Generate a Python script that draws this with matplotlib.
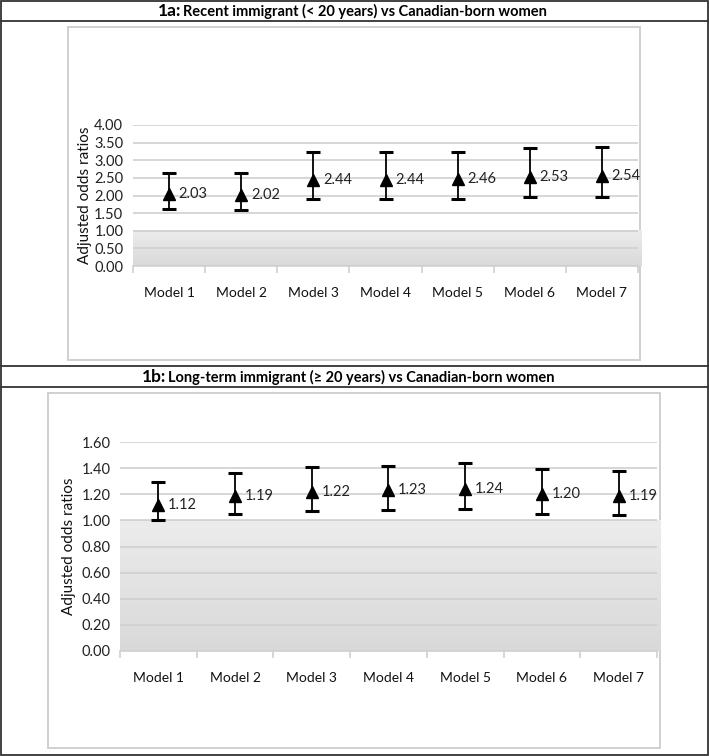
import numpy as np
import matplotlib
matplotlib.use("Agg")
import matplotlib.pyplot as plt
from matplotlib.patches import Rectangle

# Data

models = ["Model 1", "Model 2", "Model 3", "Model 4", "Model 5", "Model 6", "Model 7"]

aor_1a   = [2.03, 2.02, 2.44, 2.44, 2.46, 2.53, 2.54]
lower_1a = [1.62, 1.58, 1.90, 1.90, 1.90, 1.97, 1.97]
upper_1a = [2.65, 2.65, 3.22, 3.22, 3.24, 3.34, 3.38]
yticks_1a = [0.0, 0.5, 1.0, 1.5, 2.0, 2.5, 3.0, 3.5, 4.0]

aor_1b   = [1.12, 1.19, 1.22, 1.23, 1.24, 1.20, 1.19]
lower_1b = [1.00, 1.05, 1.07, 1.08, 1.09, 1.05, 1.04]
upper_1b = [1.29, 1.36, 1.41, 1.42, 1.44, 1.39, 1.38]
yticks_1b = [0.0, 0.2, 0.4, 0.6, 0.8, 1.0, 1.2, 1.4, 1.6]

title_1a = ("1a:", "Recent immigrant (< 20 years) vs Canadian-born women")
title_1b = ("1b:", "Long-term immigrant (\u2265 20 years) vs Canadian-born women")

W, H = 709, 756
FONT = ["Lato", "DejaVu Sans"]
TITLE_FONT = ["Lato", "DejaVu Sans"]
BORDER = "#333333"
BOX = "#d0d0d0"
GRID = "#cfcfcf"

fig = plt.figure(figsize=(W / 100, H / 100), dpi=100)

# background layer in pixel coordinates
bg = fig.add_axes([0, 0, 1, 1], zorder=0)
bg.set_xlim(0, W); bg.set_ylim(H, 0); bg.axis("off")

# outer table and title rows
bg.add_patch(Rectangle((1, 1), W - 2, H - 2, fill=False, ec=BORDER, lw=1.3))
for y in [20.5, 366, 386.5]:
    bg.plot([1, W - 1], [y, y], color=BORDER, lw=1.3)

# chart boxes
bg.add_patch(Rectangle((67.5, 26.5), 572.5, 333.5, fill=False, ec=BOX, lw=1.4))
bg.add_patch(Rectangle((48, 393), 611.5, 355, fill=False, ec=BOX, lw=1.4))

# titles
bg.text(181, 11, title_1a[0], ha="right", va="center", fontsize=12.5,
        fontweight="bold", family=TITLE_FONT)
bg.text(183, 11.5, title_1a[1], ha="left", va="center", fontsize=10.5,
        fontweight="bold", family=TITLE_FONT)
bg.text(166, 376.5, title_1b[0], ha="right", va="center", fontsize=12.5,
        fontweight="bold", family=TITLE_FONT)
bg.text(168, 377, title_1b[1], ha="left", va="center", fontsize=10.5,
        fontweight="bold", family=TITLE_FONT)


def px_axes(l, t, r, b):
    return fig.add_axes([l / W, 1 - b / H, (r - l) / W, (b - t) / H], zorder=2)


def draw_panel(ax, aor, lo, hi, yticks, ymax, ylabel_x):
    x = np.arange(len(models))
    ax.set_facecolor("none")
    ax.set_xlim(-0.5, len(models) - 0.5)
    ax.set_ylim(0, ymax)

    # grey shading below OR = 1
    grad = np.linspace(0, 1, 100).reshape(-1, 1)
    ax.imshow(grad, extent=(-0.5, len(models) - 0.45, 0, 1.0), aspect="auto",
              cmap=matplotlib.colors.LinearSegmentedColormap.from_list(
                  "g", ["#d9d9d9", "#ececec"]),
              origin="lower", zorder=0, clip_on=False)

    ax.set_yticks(yticks)
    ax.set_yticklabels([f"{v:.2f}" for v in yticks], fontsize=10.5, family=FONT,
                       color="#222222")
    ax.yaxis.grid(True, color=GRID, lw=1.2, zorder=1)
    ax.set_axisbelow(True)
    ax.tick_params(axis="y", length=0, pad=7)

    ax.set_xticks(x)
    ax.set_xticklabels(models, fontsize=10, family=FONT, color="#111111")
    ax.set_xticks(np.arange(-0.5, len(models)), minor=True)
    ax.tick_params(axis="x", which="major", length=0, pad=15)
    ax.tick_params(axis="x", which="minor", length=5, color=BOX, width=1.2)

    for s in ["top", "right", "left"]:
        ax.spines[s].set_visible(False)
    ax.spines["bottom"].set_color(BOX)
    ax.spines["bottom"].set_linewidth(1.2)

    err = [np.array(aor) - np.array(lo), np.array(hi) - np.array(aor)]
    ax.errorbar(x, aor, yerr=err, fmt="^", color="black", ms=8,
                elinewidth=1.3, capsize=5, capthick=2.2, zorder=5)
    for xi, v in zip(x, aor):
        ax.annotate(f"{v:.2f}", (xi, v), xytext=(7, 0), textcoords="offset points",
                    ha="left", va="center", fontsize=10.5, family=FONT,
                    color="#222222", zorder=6)

    ax.set_ylabel("Adjusted odds ratios", fontsize=11, family=FONT, color="#111111")
    ax.yaxis.set_label_coords(ylabel_x, 0.5)


ax1 = px_axes(133, 125, 638, 266)
draw_panel(ax1, aor_1a, lower_1a, upper_1a, yticks_1a, 4.0, -0.082)

ax2 = px_axes(120, 442, 657, 651)
draw_panel(ax2, aor_1b, lower_1b, upper_1b, yticks_1b, 1.6, -0.082)

fig.savefig("out.png", dpi=100)
